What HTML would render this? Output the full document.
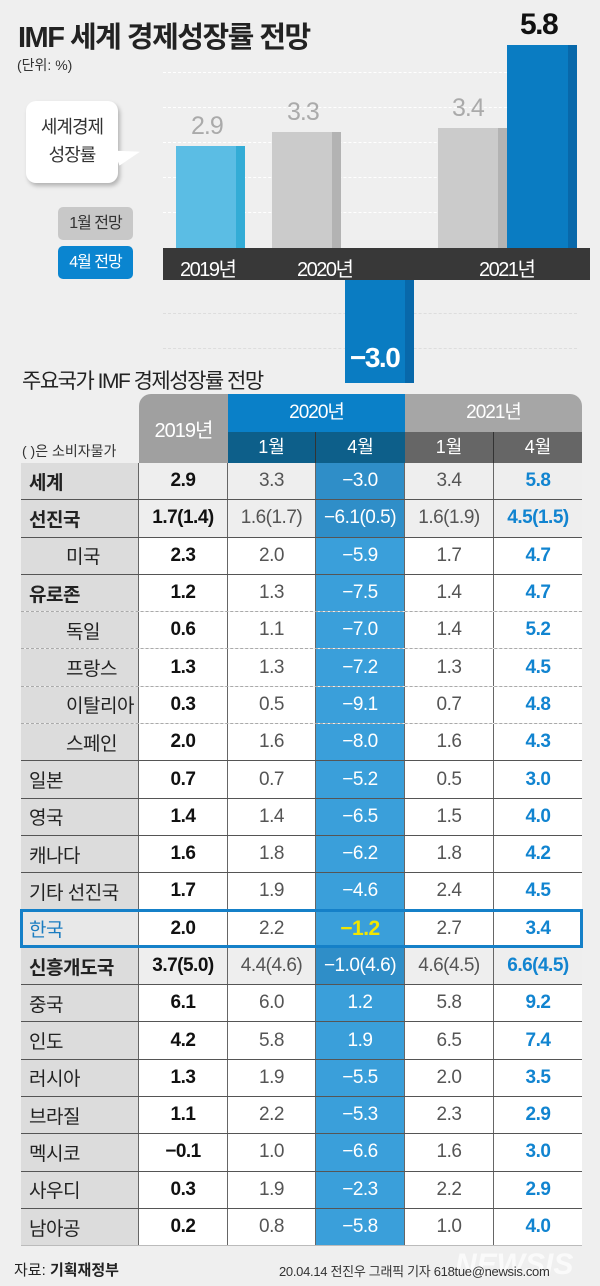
<!DOCTYPE html>
<html><head><meta charset="utf-8"><style>
*{margin:0;padding:0;box-sizing:border-box}
body{width:600px;height:1286px;background:#efefef;font-family:"Liberation Sans","Noto Sans CJK KR",sans-serif;position:relative;overflow:hidden}
.a{position:absolute}
.grid{position:absolute;left:163px;width:414px;border-top:1px dashed #fff}
.tbl{position:absolute;left:21px;top:463px;width:561px}
.r{display:flex;height:37.3px;border-bottom:1px solid #555}
.r.d{border-bottom:1px dashed #aaa}
.r>div{display:flex;align-items:center;justify-content:center;font-size:19px;border-right:1px solid #666;letter-spacing:-0.5px}
.r>div:last-child{border-right:none}
.c0{width:118px;justify-content:flex-start!important;padding-left:8px;background:#dcdcdc;color:#222}
.c0.i{padding-left:45px}
.c1{width:89px;font-weight:bold;color:#111;background:#fff}
.c2{width:88px;color:#555;background:#fff}
.c3{width:89px;color:#fff;background:#3a9fda}
.c4{width:89px;color:#555;background:#fff}
.c5{width:88px;color:#1184d0;font-weight:bold;background:#fff}
.g .c1,.g .c2,.g .c4,.g .c5{background:#eeeeee}
.g .c3{background:#2f8ec8}
.b{font-weight:bold}
</style></head><body>
<div class="a" style="left:18px;top:14px;font-size:29px;font-weight:bold;color:#222;letter-spacing:-1.5px">IMF 세계 경제성장률 전망</div>
<div class="a" style="left:17px;top:55px;font-size:14px;color:#333">(단위: %)</div>

<div class="grid" style="top:72px"></div><div class="grid" style="top:107px"></div><div class="grid" style="top:142px"></div><div class="grid" style="top:177px"></div><div class="grid" style="top:212px"></div>
<div class="grid" style="top:313px;border-color:#ddd"></div><div class="grid" style="top:348px;border-color:#ddd"></div>

<div class="a" style="left:176px;top:146px;width:69px;height:102px;background:#5bbde4;border-right:9px solid #33acd6"></div>
<div class="a" style="left:272px;top:132px;width:69px;height:116px;background:#cbcbcb;border-right:9px solid #b3b3b3"></div>
<div class="a" style="left:345px;top:280px;width:69px;height:103px;background:#0a7cc2;border-right:9px solid #0868aa"></div>
<div class="a" style="left:438px;top:128px;width:69px;height:120px;background:#cbcbcb;border-right:9px solid #b3b3b3"></div>
<div class="a" style="left:507px;top:45px;width:70px;height:203px;background:#0a7cc2;border-right:9px solid #0868aa"></div>
<div class="a" style="left:163px;top:248px;width:427px;height:32px;background:#383838"></div>
<div class="a" style="left:180px;top:253px;font-size:20px;color:#fff;letter-spacing:-1.5px">2019년</div>
<div class="a" style="left:297px;top:253px;font-size:20px;color:#fff;letter-spacing:-1.5px">2020년</div>
<div class="a" style="left:479px;top:253px;font-size:20px;color:#fff;letter-spacing:-1.5px">2021년</div>
<div class="a" style="left:191px;top:112px;font-size:25px;color:#aaa;letter-spacing:-1px">2.9</div>
<div class="a" style="left:287px;top:98px;font-size:25px;color:#aaa;letter-spacing:-1px">3.3</div>
<div class="a" style="left:452px;top:94px;font-size:25px;color:#aaa;letter-spacing:-1px">3.4</div>
<div class="a" style="left:520px;top:8px;font-size:30px;color:#111;font-weight:bold;letter-spacing:-1.5px">5.8</div>
<div class="a" style="left:350px;top:342px;font-size:28px;color:#fff;font-weight:bold;letter-spacing:-1.5px">−3.0</div>

<div class="a" style="left:26px;top:101px;width:92px;height:82px;background:#fff;border-radius:10px;box-shadow:2px 3px 4px rgba(0,0,0,.25);text-align:center;font-size:18px;line-height:28px;padding-top:12px;color:#333;letter-spacing:-1px">세계경제<br>성장률</div>
<div class="a" style="left:116px;top:146px;width:0;height:0;border-top:10px solid transparent;border-bottom:6px solid transparent;border-left:24px solid #fff;transform:rotate(-20deg)"></div>
<div class="a" style="left:58px;top:207px;width:75px;height:33px;background:#c8c8c8;border-radius:5px;color:#333;font-size:16px;text-align:center;line-height:33px;letter-spacing:-1px">1월 전망</div>
<div class="a" style="left:58px;top:246px;width:75px;height:33px;background:#0a85d0;border-radius:5px;color:#fff;font-size:16px;text-align:center;line-height:33px;letter-spacing:-1px">4월 전망</div>

<div class="a" style="left:22px;top:365px;font-size:21px;color:#222;letter-spacing:-1.5px">주요국가 IMF 경제성장률 전망</div>

<div class="a" style="left:139px;top:394px;width:89px;height:69px;background:#a0a0a0;border-top-left-radius:12px;color:#fff;font-size:20px;display:flex;align-items:center;justify-content:center;letter-spacing:-1px">2019년</div>
<div class="a" style="left:228px;top:394px;width:177px;height:38px;background:#0a80c8;color:#fff;font-size:19px;text-align:center;line-height:38px;letter-spacing:-1px">2020년</div>
<div class="a" style="left:405px;top:394px;width:177px;height:38px;background:#a6a6a6;border-top-right-radius:12px;color:#fff;font-size:19px;text-align:center;line-height:38px;letter-spacing:-1px">2021년</div>
<div class="a" style="left:228px;top:432px;width:88px;height:31px;background:#0d5f8a;color:#fff;font-size:18px;text-align:center;line-height:31px;border-right:1px solid #333">1월</div>
<div class="a" style="left:316px;top:432px;width:89px;height:31px;background:#0d5f8a;color:#fff;font-size:18px;text-align:center;line-height:31px">4월</div>
<div class="a" style="left:405px;top:432px;width:89px;height:31px;background:#666;color:#fff;font-size:18px;text-align:center;line-height:31px;border-right:1px solid #333">1월</div>
<div class="a" style="left:494px;top:432px;width:88px;height:31px;background:#666;color:#fff;font-size:18px;text-align:center;line-height:31px">4월</div>
<div class="a" style="left:22px;top:441px;font-size:14px;color:#333">( )은 소비자물가</div>

<div class="tbl">
<div class="r g"><div class="c0 b">세계</div><div class="c1">2.9</div><div class="c2">3.3</div><div class="c3">−3.0</div><div class="c4">3.4</div><div class="c5">5.8</div></div>
<div class="r g"><div class="c0 b">선진국</div><div class="c1">1.7(1.4)</div><div class="c2">1.6(1.7)</div><div class="c3">−6.1(0.5)</div><div class="c4">1.6(1.9)</div><div class="c5">4.5(1.5)</div></div>
<div class="r"><div class="c0 i">미국</div><div class="c1">2.3</div><div class="c2">2.0</div><div class="c3">−5.9</div><div class="c4">1.7</div><div class="c5">4.7</div></div>
<div class="r d"><div class="c0 b">유로존</div><div class="c1">1.2</div><div class="c2">1.3</div><div class="c3">−7.5</div><div class="c4">1.4</div><div class="c5">4.7</div></div>
<div class="r d"><div class="c0 i">독일</div><div class="c1">0.6</div><div class="c2">1.1</div><div class="c3">−7.0</div><div class="c4">1.4</div><div class="c5">5.2</div></div>
<div class="r d"><div class="c0 i">프랑스</div><div class="c1">1.3</div><div class="c2">1.3</div><div class="c3">−7.2</div><div class="c4">1.3</div><div class="c5">4.5</div></div>
<div class="r d"><div class="c0 i">이탈리아</div><div class="c1">0.3</div><div class="c2">0.5</div><div class="c3">−9.1</div><div class="c4">0.7</div><div class="c5">4.8</div></div>
<div class="r"><div class="c0 i">스페인</div><div class="c1">2.0</div><div class="c2">1.6</div><div class="c3">−8.0</div><div class="c4">1.6</div><div class="c5">4.3</div></div>
<div class="r"><div class="c0">일본</div><div class="c1">0.7</div><div class="c2">0.7</div><div class="c3">−5.2</div><div class="c4">0.5</div><div class="c5">3.0</div></div>
<div class="r"><div class="c0">영국</div><div class="c1">1.4</div><div class="c2">1.4</div><div class="c3">−6.5</div><div class="c4">1.5</div><div class="c5">4.0</div></div>
<div class="r"><div class="c0">캐나다</div><div class="c1">1.6</div><div class="c2">1.8</div><div class="c3">−6.2</div><div class="c4">1.8</div><div class="c5">4.2</div></div>
<div class="r"><div class="c0">기타 선진국</div><div class="c1">1.7</div><div class="c2">1.9</div><div class="c3">−4.6</div><div class="c4">2.4</div><div class="c5">4.5</div></div>
<div class="r"><div class="c0" style="color:#1a7cc0;background:#e8e8e8">한국</div><div class="c1">2.0</div><div class="c2">2.2</div><div class="c3" style="color:#f2e600;font-weight:bold;font-size:21px">−1.2</div><div class="c4">2.7</div><div class="c5">3.4</div></div>
<div class="r g"><div class="c0 b">신흥개도국</div><div class="c1">3.7(5.0)</div><div class="c2">4.4(4.6)</div><div class="c3">−1.0(4.6)</div><div class="c4">4.6(4.5)</div><div class="c5">6.6(4.5)</div></div>
<div class="r"><div class="c0">중국</div><div class="c1">6.1</div><div class="c2">6.0</div><div class="c3">1.2</div><div class="c4">5.8</div><div class="c5">9.2</div></div>
<div class="r"><div class="c0">인도</div><div class="c1">4.2</div><div class="c2">5.8</div><div class="c3">1.9</div><div class="c4">6.5</div><div class="c5">7.4</div></div>
<div class="r"><div class="c0">러시아</div><div class="c1">1.3</div><div class="c2">1.9</div><div class="c3">−5.5</div><div class="c4">2.0</div><div class="c5">3.5</div></div>
<div class="r"><div class="c0">브라질</div><div class="c1">1.1</div><div class="c2">2.2</div><div class="c3">−5.3</div><div class="c4">2.3</div><div class="c5">2.9</div></div>
<div class="r"><div class="c0">멕시코</div><div class="c1">−0.1</div><div class="c2">1.0</div><div class="c3">−6.6</div><div class="c4">1.6</div><div class="c5">3.0</div></div>
<div class="r"><div class="c0">사우디</div><div class="c1">0.3</div><div class="c2">1.9</div><div class="c3">−2.3</div><div class="c4">2.2</div><div class="c5">2.9</div></div>
<div class="r" style="border-bottom:1px solid #bbb"><div class="c0">남아공</div><div class="c1">0.2</div><div class="c2">0.8</div><div class="c3">−5.8</div><div class="c4">1.0</div><div class="c5">4.0</div></div>
</div>
<div class="a" style="left:20px;top:909px;width:563px;height:39px;border:3px solid #1580c8"></div>

<div class="a" style="left:455px;top:1248px;font-size:30px;font-weight:bold;font-style:italic;color:#fff;opacity:.7">NEWSIS</div>
<div class="a" style="left:14px;top:1259px;font-size:15px;color:#222">자료: <b>기획재정부</b></div>
<div class="a" style="left:279px;top:1261px;font-size:13px;color:#333;letter-spacing:-0.3px">20.04.14 전진우 그래픽 기자 618tue@newsis.com</div>
</body></html>
